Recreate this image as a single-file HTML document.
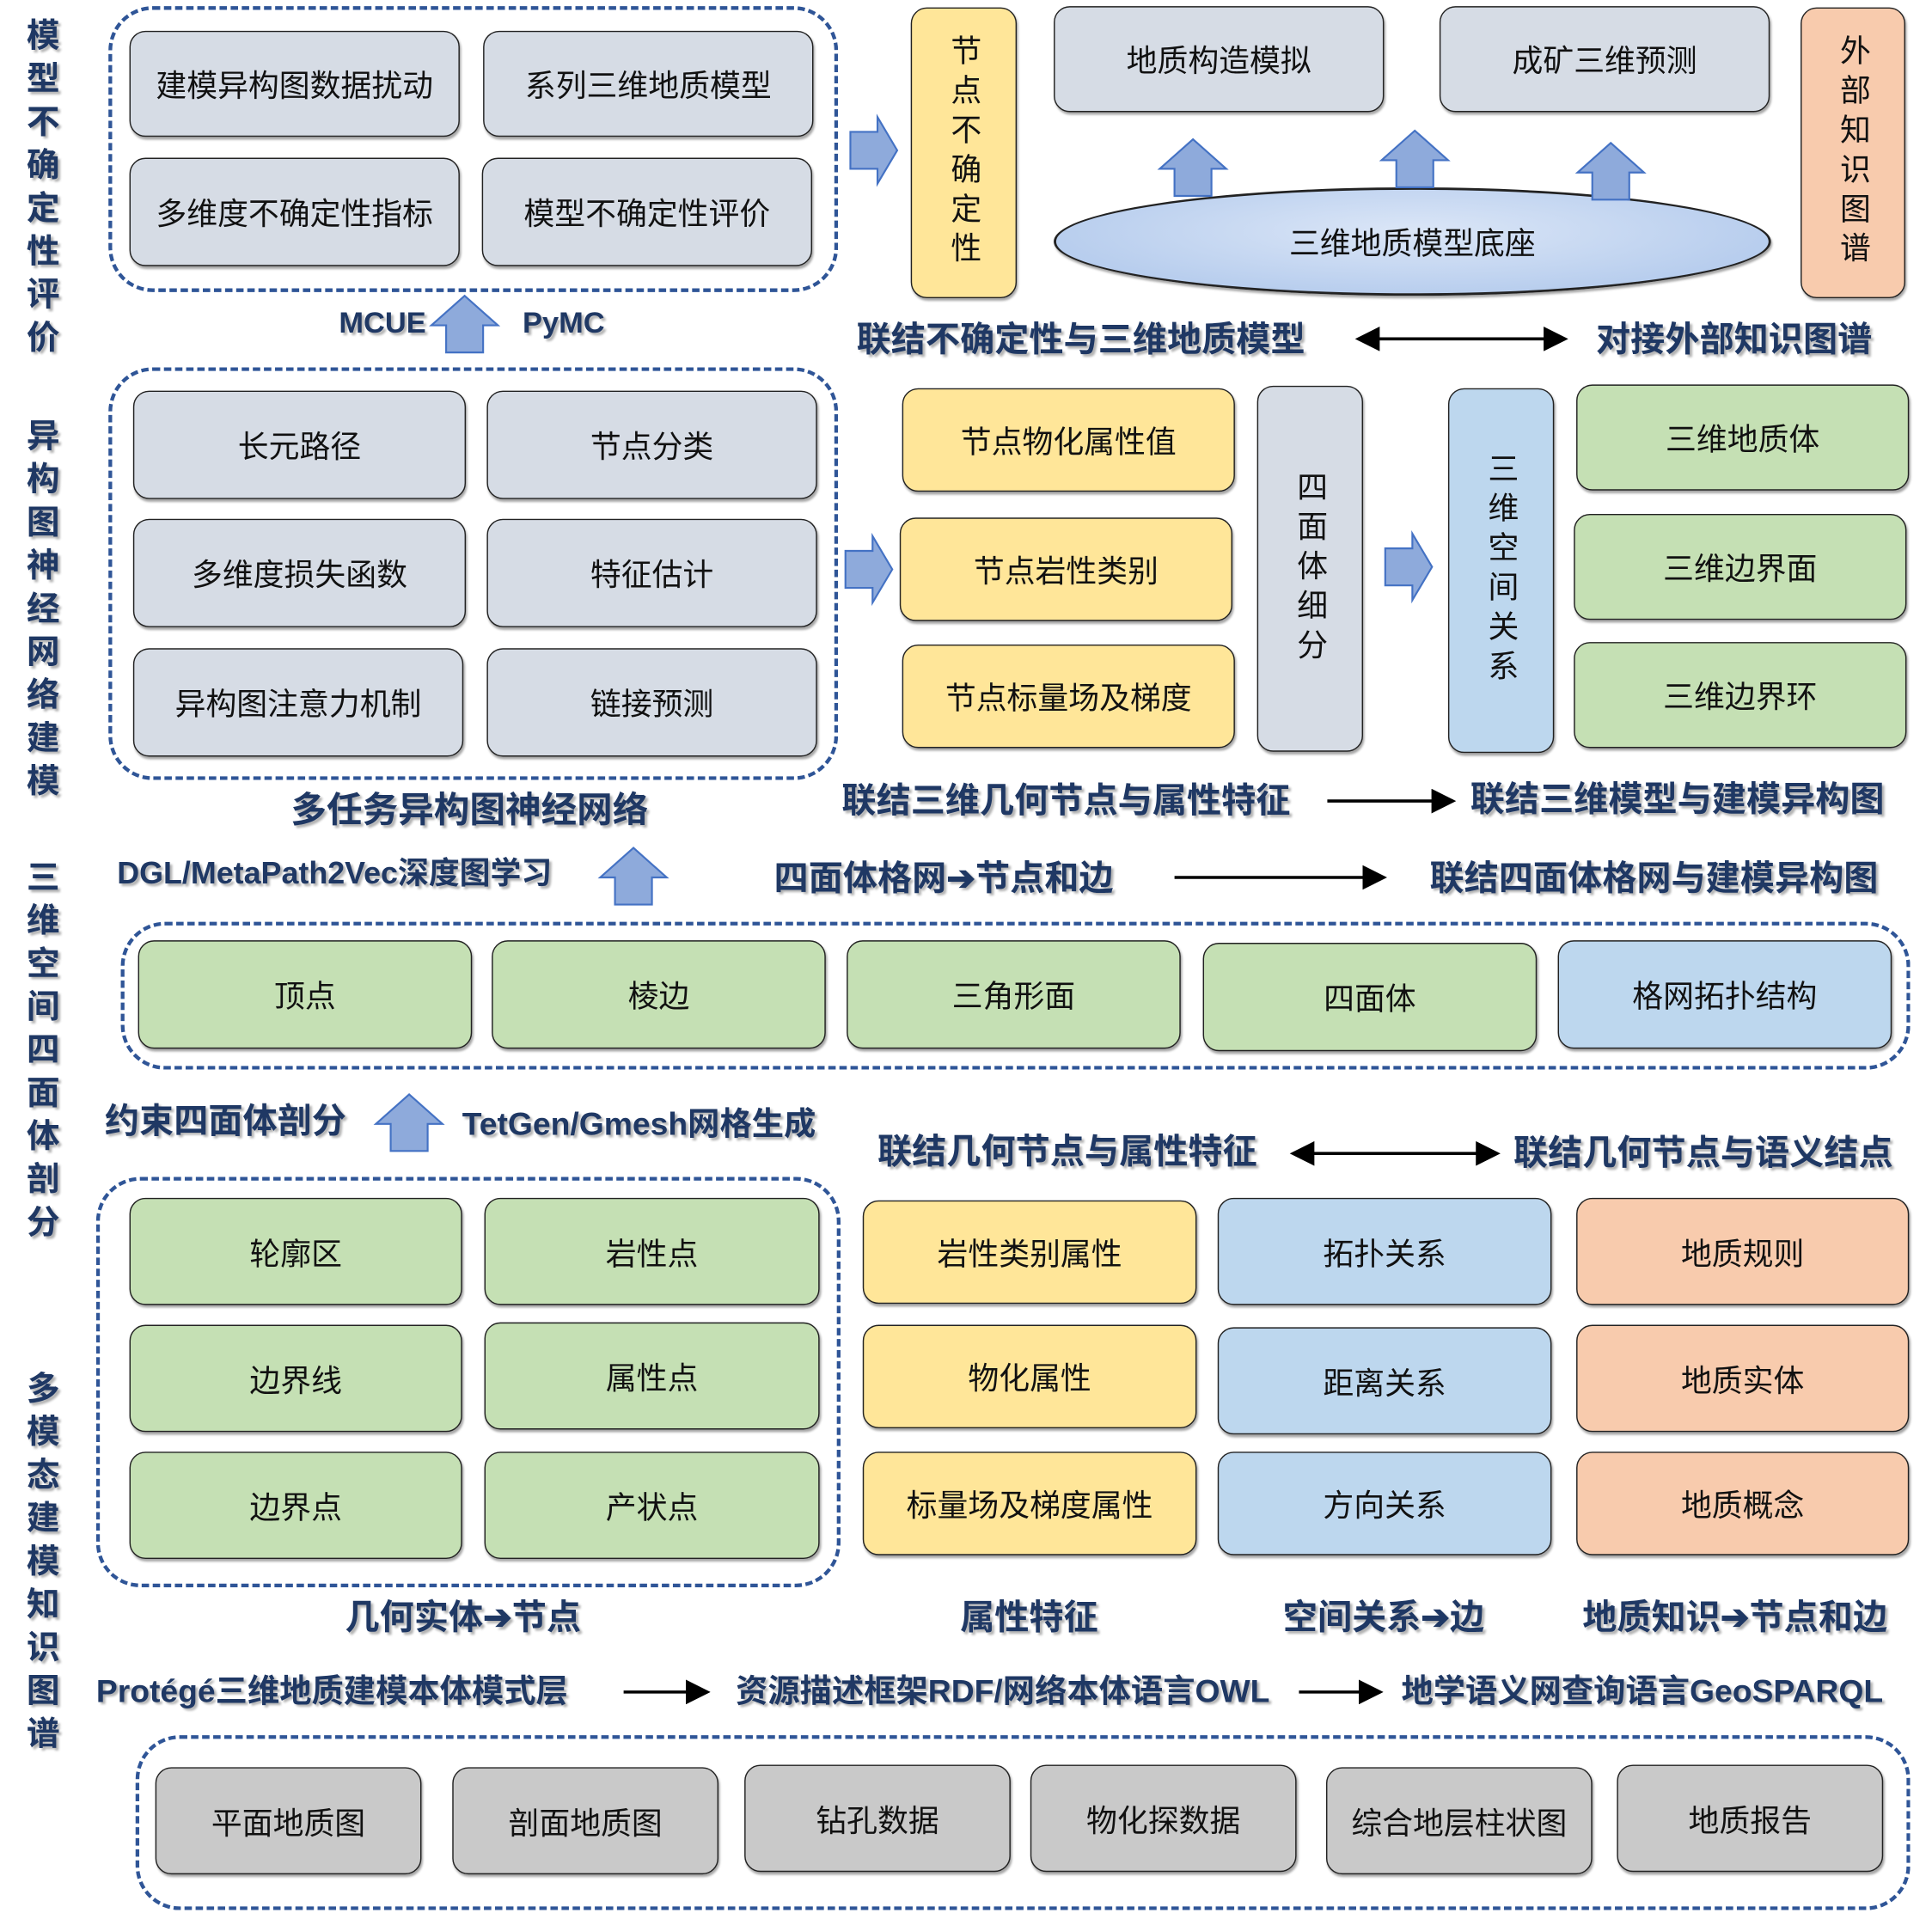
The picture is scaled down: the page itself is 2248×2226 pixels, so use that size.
<!DOCTYPE html>
<html><head><meta charset="utf-8">
<style>
html,body{margin:0;padding:0;background:#fff;width:2248px;height:2224px;overflow:hidden}
#w{position:absolute;left:0;top:0;width:1568px;height:1552px;transform:scale(1.434);transform-origin:0 0;font-family:"Liberation Sans","Noto Sans CJK SC",sans-serif}
.b{position:absolute;box-sizing:border-box;border:1.6px solid #222;border-radius:13px;display:flex;align-items:center;justify-content:center;font-size:25px;color:#111;box-shadow:1px 2px 2px rgba(0,0,0,.35)}
.g{background:#d6dce5}.y{background:#ffe699}.gr{background:#c5e0b4}.bl{background:#bdd7ee}.o{background:#f8cbad}.k{background:#c9c9c9}
.v{writing-mode:vertical-rl;text-orientation:upright;letter-spacing:7px}
.d{position:absolute;box-sizing:border-box;border:3px dashed #2f5597;border-radius:36px}
.t{position:absolute;font-weight:bold;color:#1f3864;font-size:28px;white-space:nowrap;text-shadow:2px 2px 2px rgba(0,0,0,.3);line-height:1}
.lv{position:absolute;left:20px;width:30px;font-weight:bold;color:#1f3864;font-size:27px;line-height:35px;text-align:center;text-shadow:2px 2px 2px rgba(0,0,0,.3)}
svg{position:absolute;overflow:visible}
</style></head><body><div id="w">
<svg width="0" height="0"><defs>
<g id="ar"><polygon points="0,12 22,12 22,0 38,27 22,54 22,42 0,42" fill="#8eaadb" stroke="#4472c4" stroke-width="1.5"/></g>
<g id="au"><polygon points="12,46 12,24 0,24 27,0 54,24 42,24 42,46" fill="#8eaadb" stroke="#4472c4" stroke-width="1.5"/></g>
<marker id="m" markerWidth="8" markerHeight="8" refX="7" refY="4" orient="auto"><path d="M0,0 L8,4 L0,8z" fill="#000"/></marker>
<marker id="ms" markerWidth="8" markerHeight="8" refX="1" refY="4" orient="auto"><path d="M8,0 L0,4 L8,8z" fill="#000"/></marker>
</defs></svg>

<div class="lv" style="top:12px">模<br>型<br>不<br>确<br>定<br>性<br>评<br>价</div>
<div class="lv" style="top:337px">异<br>构<br>图<br>神<br>经<br>网<br>络<br>建<br>模</div>
<div class="lv" style="top:695px">三<br>维<br>空<br>间<br>四<br>面<br>体<br>剖<br>分</div>
<div class="lv" style="top:1110px">多<br>模<br>态<br>建<br>模<br>知<br>识<br>图<br>谱</div>

<div class="d" style="left:88px;top:5px;width:592px;height:232px"></div>
<div class="b g" style="left:105px;top:25px;width:268px;height:86px">建模异构图数据扰动</div>
<div class="b g" style="left:392px;top:25px;width:268px;height:86px">系列三维地质模型</div>
<div class="b g" style="left:105px;top:128px;width:268px;height:88px">多维度不确定性指标</div>
<div class="b g" style="left:391px;top:128px;width:268px;height:88px">模型不确定性评价</div>
<svg style="left:690px;top:95px" width="40" height="56"><use href="#ar"/></svg>
<div class="b y v" style="left:739px;top:6px;width:86px;height:236px">节点不确定性</div>
<div class="b g" style="left:855px;top:5px;width:268px;height:86px">地质构造模拟</div>
<div class="b g" style="left:1168px;top:5px;width:268px;height:86px">成矿三维预测</div>
<div class="b o v" style="left:1461px;top:6px;width:85px;height:236px">外部知识图谱</div>
<div class="b" style="left:855px;top:152px;width:582px;height:88px;border-radius:50%;background:radial-gradient(ellipse at 50% 40%,#dbe6f7,#aac4ea);border-width:2px">三维地质模型底座</div>
<svg style="left:941px;top:113px" width="56" height="48"><use href="#au"/></svg>
<svg style="left:1121px;top:106px" width="56" height="48"><use href="#au"/></svg>
<svg style="left:1280px;top:116px" width="56" height="48"><use href="#au"/></svg>
<div class="t" style="left:275px;top:251px;font-size:24px">MCUE</div>
<svg style="left:350px;top:240px" width="56" height="48"><use href="#au"/></svg>
<div class="t" style="left:424px;top:251px;font-size:24px">PyMC</div>
<div class="t" style="left:695px;top:262px">联结不确定性与三维地质模型</div>
<svg style="left:1098px;top:268px" width="178" height="14"><line x1="4" y1="7" x2="172" y2="7" stroke="#000" stroke-width="2.5" marker-end="url(#m)" marker-start="url(#ms)"/></svg>
<div class="t" style="left:1295px;top:262px">对接外部知识图谱</div>

<div class="d" style="left:88px;top:298px;width:592px;height:335px"></div>
<div class="b g" style="left:108px;top:317px;width:270px;height:88px">长元路径</div>
<div class="b g" style="left:395px;top:317px;width:268px;height:88px">节点分类</div>
<div class="b g" style="left:108px;top:421px;width:270px;height:88px">多维度损失函数</div>
<div class="b g" style="left:395px;top:421px;width:268px;height:88px">特征估计</div>
<div class="b g" style="left:108px;top:526px;width:268px;height:88px">异构图注意力机制</div>
<div class="b g" style="left:395px;top:526px;width:268px;height:88px">链接预测</div>
<svg style="left:686px;top:435px" width="40" height="56"><use href="#ar"/></svg>
<div class="b y" style="left:732px;top:315px;width:270px;height:84px">节点物化属性值</div>
<div class="b y" style="left:730px;top:420px;width:270px;height:84px">节点岩性类别</div>
<div class="b y" style="left:732px;top:523px;width:270px;height:84px">节点标量场及梯度</div>
<div class="b g v" style="left:1020px;top:313px;width:86px;height:297px">四面体细分</div>
<svg style="left:1124px;top:433px" width="40" height="56"><use href="#ar"/></svg>
<div class="b bl v" style="left:1175px;top:315px;width:86px;height:296px">三维空间关系</div>
<div class="b gr" style="left:1279px;top:312px;width:270px;height:86px">三维地质体</div>
<div class="b gr" style="left:1277px;top:417px;width:270px;height:86px">三维边界面</div>
<div class="b gr" style="left:1277px;top:521px;width:270px;height:86px">三维边界环</div>
<div class="t" style="left:236px;top:644px;font-size:29px">多任务异构图神经网络</div>
<div class="t" style="left:683px;top:636px">联结三维几何节点与属性特征</div>
<svg style="left:1075px;top:643px" width="110" height="14"><line x1="2" y1="7" x2="104" y2="7" stroke="#000" stroke-width="2.5" marker-end="url(#m)"/></svg>
<div class="t" style="left:1193px;top:635px">联结三维模型与建模异构图</div>
<div class="t" style="left:95px;top:697px;font-size:25px">DGL/MetaPath2Vec深度图学习</div>
<svg style="left:487px;top:688px" width="56" height="48"><use href="#au"/></svg>
<div class="t" style="left:628px;top:699px">四面体格网➔节点和边</div>
<svg style="left:951px;top:705px" width="178" height="14"><line x1="2" y1="7" x2="172" y2="7" stroke="#000" stroke-width="2.5" marker-end="url(#m)"/></svg>
<div class="t" style="left:1160px;top:699px">联结四面体格网与建模异构图</div>

<div class="d" style="left:98px;top:748px;width:1452px;height:120px"></div>
<div class="b gr" style="left:112px;top:763px;width:271px;height:88px">顶点</div>
<div class="b gr" style="left:399px;top:763px;width:271px;height:88px">棱边</div>
<div class="b gr" style="left:687px;top:763px;width:271px;height:88px">三角形面</div>
<div class="b gr" style="left:976px;top:765px;width:271px;height:88px">四面体</div>
<div class="b bl" style="left:1264px;top:763px;width:271px;height:88px">格网拓扑结构</div>
<div class="t" style="left:85px;top:896px">约束四面体剖分</div>
<svg style="left:305px;top:888px" width="56" height="48"><use href="#au"/></svg>
<div class="t" style="left:375px;top:899px;font-size:26px">TetGen/Gmesh网格生成</div>
<div class="t" style="left:712px;top:921px">联结几何节点与属性特征</div>
<svg style="left:1045px;top:929px" width="176" height="14"><line x1="4" y1="7" x2="170" y2="7" stroke="#000" stroke-width="2.5" marker-end="url(#m)" marker-start="url(#ms)"/></svg>
<div class="t" style="left:1228px;top:922px">联结几何节点与语义结点</div>

<div class="d" style="left:78px;top:955px;width:604px;height:333px"></div>
<div class="b gr" style="left:105px;top:972px;width:270px;height:87px">轮廓区</div>
<div class="b gr" style="left:393px;top:972px;width:272px;height:87px">岩性点</div>
<div class="b gr" style="left:105px;top:1075px;width:270px;height:87px">边界线</div>
<div class="b gr" style="left:393px;top:1073px;width:272px;height:87px">属性点</div>
<div class="b gr" style="left:105px;top:1178px;width:270px;height:87px">边界点</div>
<div class="b gr" style="left:393px;top:1178px;width:272px;height:87px">产状点</div>
<div class="b y" style="left:700px;top:974px;width:271px;height:84px">岩性类别属性</div>
<div class="b y" style="left:700px;top:1075px;width:271px;height:84px">物化属性</div>
<div class="b y" style="left:700px;top:1178px;width:271px;height:84px">标量场及梯度属性</div>
<div class="b bl" style="left:988px;top:972px;width:271px;height:87px">拓扑关系</div>
<div class="b bl" style="left:988px;top:1077px;width:271px;height:87px">距离关系</div>
<div class="b bl" style="left:988px;top:1178px;width:271px;height:84px">方向关系</div>
<div class="b o" style="left:1279px;top:972px;width:270px;height:87px">地质规则</div>
<div class="b o" style="left:1279px;top:1075px;width:270px;height:87px">地质实体</div>
<div class="b o" style="left:1279px;top:1178px;width:270px;height:84px">地质概念</div>
<div class="t" style="left:280px;top:1299px">几何实体➔节点</div>
<div class="t" style="left:779px;top:1299px">属性特征</div>
<div class="t" style="left:1041px;top:1299px">空间关系➔边</div>
<div class="t" style="left:1284px;top:1299px">地质知识➔节点和边</div>
<div class="t" style="left:78px;top:1359px;font-size:26px">Protégé三维地质建模本体模式层</div>
<svg style="left:504px;top:1366px" width="76" height="14"><line x1="2" y1="7" x2="70" y2="7" stroke="#000" stroke-width="2.5" marker-end="url(#m)"/></svg>
<div class="t" style="left:597px;top:1359px;font-size:26px">资源描述框架RDF/网络本体语言OWL</div>
<svg style="left:1052px;top:1366px" width="74" height="14"><line x1="2" y1="7" x2="68" y2="7" stroke="#000" stroke-width="2.5" marker-end="url(#m)"/></svg>
<div class="t" style="left:1137px;top:1359px;font-size:26px">地学语义网查询语言GeoSPARQL</div>

<div class="d" style="left:110px;top:1408px;width:1440px;height:142px"></div>
<div class="b k" style="left:126px;top:1434px;width:216px;height:87px">平面地质图</div>
<div class="b k" style="left:367px;top:1434px;width:216px;height:87px">剖面地质图</div>
<div class="b k" style="left:604px;top:1432px;width:216px;height:87px">钻孔数据</div>
<div class="b k" style="left:836px;top:1432px;width:216px;height:87px">物化探数据</div>
<div class="b k" style="left:1076px;top:1434px;width:216px;height:87px">综合地层柱状图</div>
<div class="b k" style="left:1312px;top:1432px;width:216px;height:87px">地质报告</div>
</div></body></html>
